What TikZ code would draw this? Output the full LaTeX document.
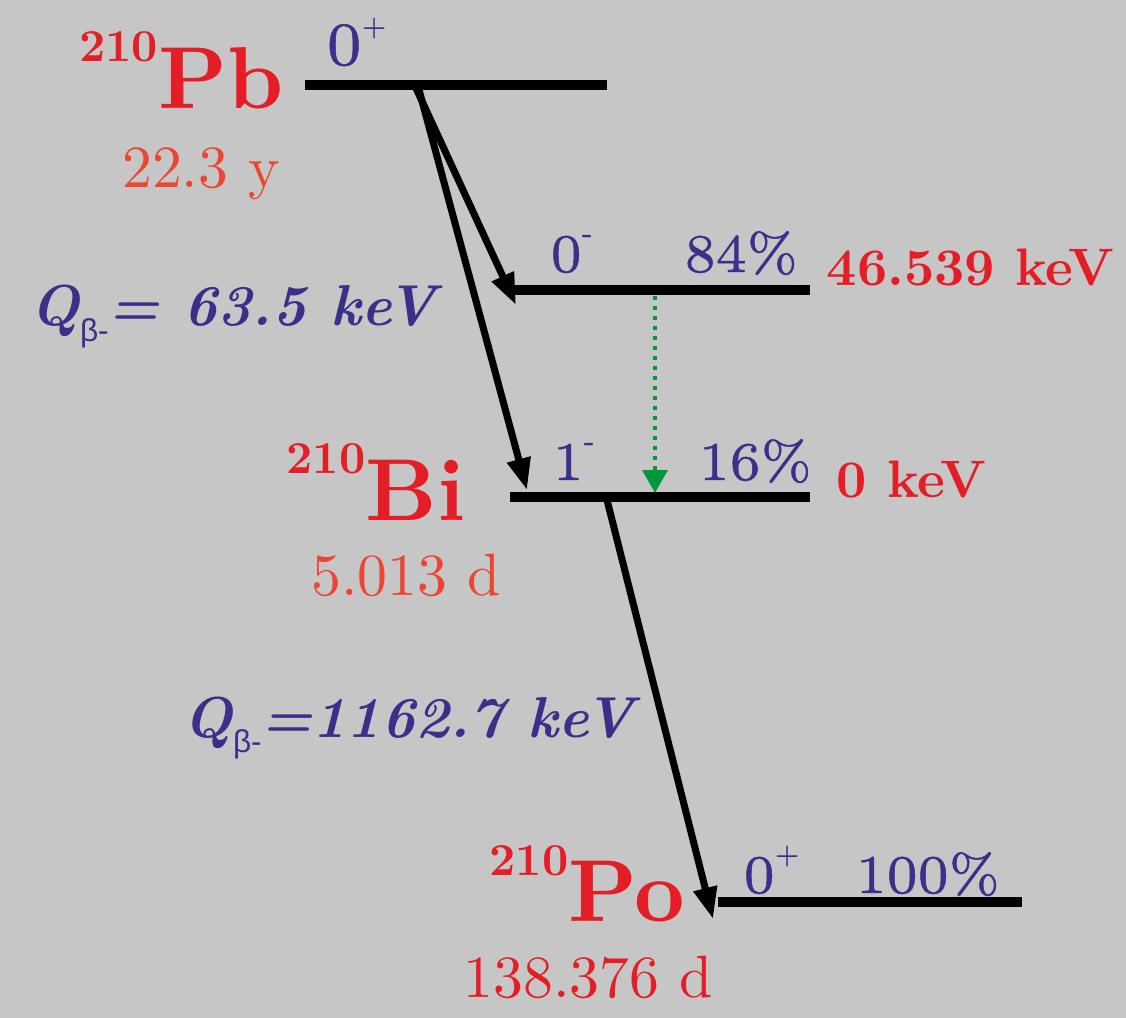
\documentclass[tikz,border=0pt]{standalone}
\usepackage{fontspec}
\setmainfont{lmroman10-regular.otf}[BoldFont=lmroman10-bold.otf,
  ItalicFont=lmroman10-italic.otf,BoldItalicFont=lmroman10-bolditalic.otf]
\newfontfamily\lmseven{lmroman7-regular.otf}[FakeBold=0.8]
\newfontfamily\greekfont{Liberation Sans}
\usetikzlibrary{arrows.meta}

\definecolor{bggray}{RGB}{197,198,197}
\definecolor{lvlblue}{RGB}{57,48,138}
\definecolor{nucred}{RGB}{228,30,38}
\definecolor{halfred}{RGB}{236,70,50}
\definecolor{gamgreen}{RGB}{0,152,58}

% isotope with mass number, spin with parity
\newcommand{\iso}[2]{\raisebox{13.3pt}{\fontsize{13}{13}\selectfont #1}#2}
\newcommand{\spinpar}[2]{#1\raisebox{8.5pt}{\fontsize{8}{8}\selectfont #2}}
\newcommand{\qbeta}{Q{\greekfont\mdseries\upshape\fontsize{9}{9}\selectfont\raisebox{-4.5pt}{β-}}}

\begin{document}
\begin{tikzpicture}[x=0.01cm,y=-0.01cm]
\tikzset{
  level/.style={line width=2.8pt},
  decay/.style={-{Triangle[length=9pt,width=6.5pt]},line width=2pt},
  gammaline/.style={-{Triangle[length=6.5pt,width=7pt]},gamgreen,line width=1.15pt,
    dash pattern=on 1.15pt off 1.7pt},
  nucl/.style={text=nucred,font=\fontsize{25}{25}\selectfont\bfseries,inner sep=0pt},
  halflife/.style={text=halfred,font=\fontsize{17}{17}\selectfont,inner sep=0pt},
  spin/.style={text=lvlblue,font=\lmseven\fontsize{15.5}{15.5}\selectfont,inner sep=0pt},
  energy/.style={text=nucred,font=\fontsize{15}{15}\selectfont\bfseries,inner sep=0pt},
  qval/.style={text=lvlblue,font=\fontsize{16.4}{16.4}\selectfont\bfseries\itshape,inner sep=0pt}
}
\fill[bggray] (0,0) rectangle (1126,1018);
\useasboundingbox (0,0) rectangle (1126,1018);

% levels
\coordinate (pb_l) at (305,85);   \coordinate (pb_r) at (607,85);
\coordinate (bix_l) at (512,290); \coordinate (bix_r) at (810,290);
\coordinate (bi_l) at (510,497);  \coordinate (bi_r) at (810,497);
\coordinate (po_l) at (718,902);  \coordinate (po_r) at (1022,902);
\draw[level] (pb_l) -- (pb_r);
\draw[level] (bix_l) -- (bix_r);
\draw[level] (bi_l) -- (bi_r);
\draw[level] (po_l) -- (po_r);

% labels
\node[nucl,anchor=base east] (n_pb) at (284,108) {\iso{210}{Pb}};
\node[halflife,anchor=base] (t_pb) at (201,187) {22.3 y};
\node[spin,anchor=base west,font=\lmseven\fontsize{17.5}{17.5}\selectfont] (s_pb) at (326,65) {\spinpar{0}{+}};

\node[spin,anchor=base west] (s_bix) at (550,272) {\spinpar{0}{-}};
\node[spin,anchor=base west] (p_bix) at (684,272) {84\%};
\node[energy,anchor=base west] (e_bix) at (826,285) {46.539 keV};

\node[nucl,anchor=base east] (n_bi) at (466,520) {\iso{210}{Bi}};
\node[halflife,anchor=base] (t_bi) at (406,595) {5.013 d};
\node[spin,anchor=base west] (s_bi) at (552,480) {\spinpar{1}{-}};
\node[spin,anchor=base west] (p_bi) at (698,480) {16\%};
\node[energy,anchor=base west] (e_bi) at (836,497) {0 keV};

\node[nucl,anchor=base east] (n_po) at (686,922) {\iso{210}{Po}};
\node[halflife,anchor=base,text=nucred] (t_po) at (588,997) {138.376 d};
\node[spin,anchor=base west] (s_po) at (743,893) {\spinpar{0}{+}};
\node[spin,anchor=base west] (p_po) at (855,893) {100\%};

\node[qval,anchor=base west] (q_pb) at (30,326) {\qbeta= 63.5 keV};
\node[qval,anchor=base west] (q_bi) at (183,737) {\qbeta=1162.7 keV};

% transitions
\coordinate (pb_a) at (415,86);
\coordinate (pb_b) at (418,86);
\coordinate (bix_end) at (516,305);
\coordinate (bi_end) at (527,490);
\coordinate (bi_a) at (607,500);
\coordinate (po_end) at (713,919);
\coordinate (g_a) at (655,296);
\coordinate (g_b) at (655,493);
\draw[decay] (pb_a) -- (bix_end);
\draw[decay] (pb_b) -- (bi_end);
\draw[decay] (bi_a) -- (po_end);
\draw[gammaline] (g_a) -- (g_b);
\end{tikzpicture}
\end{document}
